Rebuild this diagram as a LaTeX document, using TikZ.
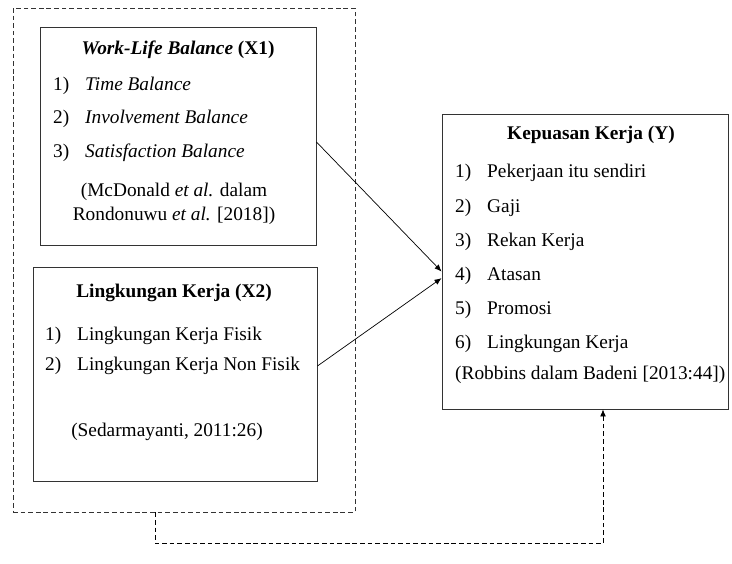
\documentclass[tikz,border=0pt]{standalone}
\usepackage{fontspec}
\setmainfont{Liberation Serif}
\usetikzlibrary{positioning,arrows.meta}

\begin{document}
\begin{tikzpicture}[
    box/.style={rectangle, thick, draw=black!80},
    item/.style={anchor=base west, inner sep=0pt},
    >={Latex[length=6pt,width=5pt]},
    font=\fontsize{16.5}{19}\selectfont
  ]
    \useasboundingbox (0,0) rectangle (21.96,16.92);

    \node[box, semithick, dash pattern=on 4pt off 2.5pt,
    minimum width=10.26cm,
    minimum height=15.12cm] (group) at (5.52,9.12) {};

    \node[box, fill=white,
    minimum width=8.28cm,
    minimum height=6.54cm] (wlb) at (5.34,12.84) {};

    \node[box, fill=white,
    minimum width=8.52cm,
    minimum height=6.42cm] (lk) at (5.25,5.70) {};

    \node[box,
    minimum width=8.58cm,
    minimum height=8.85cm] (kk) at (17.55,9.075) {};

    % Work-Life Balance (X1)
    \node (wlbtitle) at (5.34,15.42) {\textbf{\textit{Work-Life Balance}} \textbf{(X1)}};
    \node[item] (wlbn1) at (1.59,14.19) {1)};
    \node[item] (wlbi1) at (2.55,14.19) {\textit{Time Balance}};
    \node[item] (wlbn2) at (1.59,13.20) {2)};
    \node[item] (wlbi2) at (2.55,13.20) {\textit{Involvement Balance}};
    \node[item] (wlbn3) at (1.59,12.18) {3)};
    \node[item] (wlbi3) at (2.55,12.18) {\textit{Satisfaction Balance}};
    \node[align=center] (wlbsrc) at (5.22,10.81)
      {(McDonald \textit{et al.} dalam\\[2pt] Rondonuwu \textit{et al.} [2018])};

    % Lingkungan Kerja (X2)
    \node (lktitle) at (5.22,8.13) {\textbf{Lingkungan Kerja (X2)}};
    \node[item] (lkn1) at (1.35,6.69) {1)};
    \node[item] (lki1) at (2.31,6.69) {Lingkungan Kerja Fisik};
    \node[item] (lkn2) at (1.35,5.79) {2)};
    \node[item] (lki2) at (2.31,5.79) {Lingkungan Kerja Non Fisik};
    \node (lksrc) at (5.01,3.96) {(Sedarmayanti, 2011:26)};

    % Kepuasan Kerja (Y)
    \node (kktitle) at (17.73,12.87) {\textbf{Kepuasan Kerja (Y)}};
    \node[item] (kkn1) at (13.65,11.58) {1)};
    \node[item] (kki1) at (14.61,11.58) {Pekerjaan itu sendiri};
    \node[item] (kkn2) at (13.65,10.53) {2)};
    \node[item] (kki2) at (14.61,10.53) {Gaji};
    \node[item] (kkn3) at (13.65,9.51) {3)};
    \node[item] (kki3) at (14.61,9.51) {Rekan Kerja};
    \node[item] (kkn4) at (13.65,8.49) {4)};
    \node[item] (kki4) at (14.61,8.49) {Atasan};
    \node[item] (kkn5) at (13.65,7.47) {5)};
    \node[item] (kki5) at (14.61,7.47) {Promosi};
    \node[item] (kkn6) at (13.65,6.45) {6)};
    \node[item] (kki6) at (14.61,6.45) {Lingkungan Kerja};
    \node[item] (kksrc) at (13.65,5.52) {(Robbins dalam Badeni [2013:44])};

    \draw[->, semithick] ([yshift=-0.18cm]wlb.east)--([yshift=-0.3cm]kk.west);
    \draw[->, semithick] ([yshift=0.24cm]lk.east)--([yshift=-0.5cm]kk.west);
    \draw[->, semithick, dash pattern=on 4pt off 2.5pt]
      ([xshift=-0.87cm]group.south) -- ++(0,-0.93) -| ([xshift=0.54cm]kk.south);
\end{tikzpicture}
\end{document}
